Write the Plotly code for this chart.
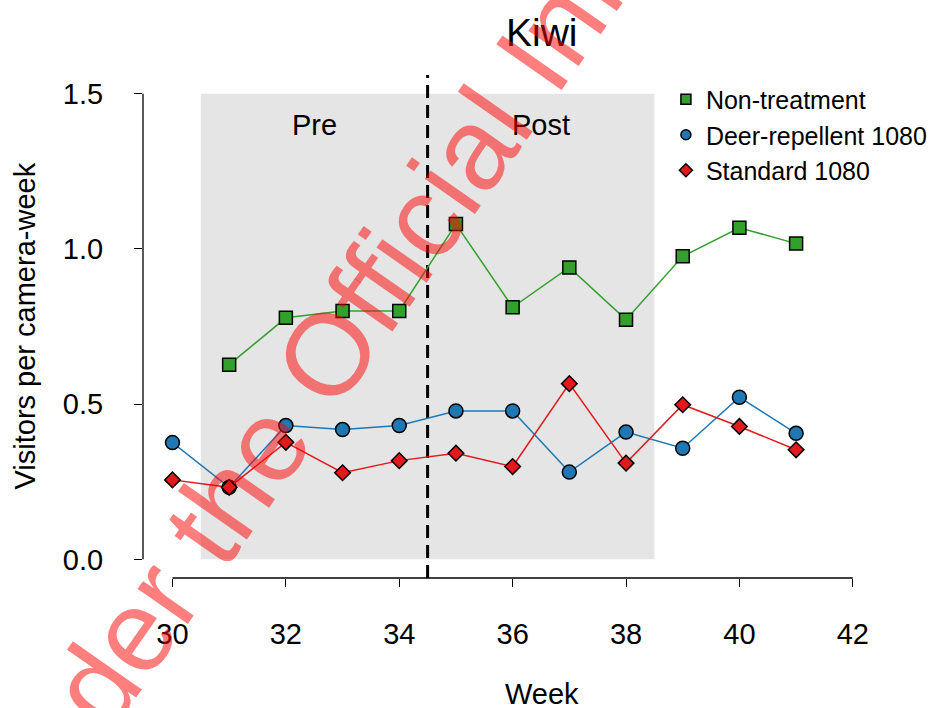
import plotly.graph_objects as go

# ---------------- data ----------------
weeks = [30, 31, 32, 33, 34, 35, 36, 37, 38, 39, 40, 41]
non_treatment = [None, 0.627, 0.778, 0.800, 0.800, 1.080, 0.812, 0.940, 0.772, 0.976, 1.068, 1.017]
deer_repellent = [0.376, 0.232, 0.431, 0.418, 0.431, 0.478, 0.478, 0.281, 0.410, 0.358, 0.522, 0.406]
standard_1080 = [0.256, 0.232, 0.377, 0.279, 0.318, 0.342, 0.299, 0.566, 0.310, 0.498, 0.428, 0.353]
series_names = ["Non-treatment", "Deer-repellent 1080", "Standard 1080"]
x_ticks = [30, 32, 34, 36, 38, 40, 42]
y_ticks = [0.0, 0.5, 1.0, 1.5]
period_bounds = [30.5, 38.5]   # shaded Pre/Post window
treatment_week = 34.5          # dashed line
period_labels = ["Pre", "Post"]
period_label_x = [32.5, 36.5]
period_label_y = 1.40

# ---------------- style ----------------
FONT = "Liberation Sans, Arial, Helvetica, sans-serif"
colors = ["#33A02C", "#1F78B4", "#E31A1C"]
symbols = ["square", "circle", "diamond"]
sizes = [13, 14, 12]
xr = [29.48, 42.48]
yr = [-0.06, 1.56]

def xfrac(v):
    return (v - xr[0]) / (xr[1] - xr[0])

def yfrac(v):
    return (v - yr[0]) / (yr[1] - yr[0])

fig = go.Figure()

for vals, name, col, sym, sz in zip([non_treatment, deer_repellent, standard_1080],
                                    series_names, colors, symbols, sizes):
    fig.add_trace(go.Scatter(
        x=weeks, y=vals, mode="lines+markers", name=name, showlegend=False,
        line=dict(color=col, width=1.5),
        marker=dict(symbol=sym, size=sz, color=col, line=dict(color="black", width=1.5)),
        cliponaxis=False,
    ))

# legend entries (marker only)
for name, col, sym in zip(series_names, colors, symbols):
    fig.add_trace(go.Scatter(
        x=[None], y=[None], mode="markers", name=name, showlegend=True,
        marker=dict(symbol=sym, size=10, color=col, line=dict(color="black", width=1.5)),
    ))

shapes = [
    # shaded window
    dict(type="rect", xref="x", yref="y", x0=period_bounds[0], x1=period_bounds[1],
         y0=y_ticks[0], y1=y_ticks[-1], fillcolor="rgb(229,229,229)", line=dict(width=0),
         layer="below"),
    # dashed treatment line
    dict(type="line", xref="x", yref="y", x0=treatment_week, x1=treatment_week,
         y0=yr[0], y1=yr[1], line=dict(color="black", width=3, dash="13px,7px"), layer="below"),
    # R-style axis lines spanning first to last tick
    dict(type="line", xref="x domain", yref="y domain", x0=xfrac(x_ticks[0]), x1=xfrac(x_ticks[-1]),
         y0=0, y1=0, line=dict(color="black", width=1.3)),
    dict(type="line", xref="x domain", yref="y domain", x0=0, x1=0,
         y0=yfrac(y_ticks[0]), y1=yfrac(y_ticks[-1]), line=dict(color="black", width=1.3)),
]

annotations = [
    dict(text=period_labels[0], x=period_label_x[0], y=period_label_y, xref="x", yref="y",
         showarrow=False, font=dict(family=FONT, size=29, color="black")),
    dict(text=period_labels[1], x=period_label_x[1], y=period_label_y, xref="x", yref="y",
         showarrow=False, font=dict(family=FONT, size=29, color="black")),
    # title
    dict(text="Kiwi", x=0.5414, y=1.0835, xref="paper", yref="paper", showarrow=False,
         xanchor="center", yanchor="middle", font=dict(family=FONT, size=39, color="black")),
    # axis titles
    dict(text="Week", x=0.5414, y=0, xref="paper", yref="paper", yshift=-116, showarrow=False,
         xanchor="center", yanchor="middle", font=dict(family=FONT, size=29, color="black")),
    dict(text="Visitors per camera-week", x=0, y=0.5, xref="paper", yref="paper", xshift=-119,
         showarrow=False, textangle=-90, xanchor="center", yanchor="middle",
         font=dict(family=FONT, size=29, color="black")),
    # watermark
    dict(text="Released under the Official Information Act", x=0.2605, y=0.465,
         xref="paper", yref="paper", showarrow=False, textangle=-55,
         xanchor="center", yanchor="middle",
         font=dict(family=FONT, size=116, color="rgba(255,0,0,0.5)")),
]

fig.update_layout(
    width=932, height=708,
    margin=dict(l=143, r=52, t=75, b=130, autoexpand=False),
    paper_bgcolor="white", plot_bgcolor="white",
    shapes=shapes, annotations=annotations,
    showlegend=True,
    legend=dict(x=0.7095, y=0.997, xanchor="left", yanchor="top",
                bgcolor="rgba(0,0,0,0)", font=dict(family=FONT, size=25, color="black"),
                itemwidth=30),
    xaxis=dict(range=xr, tickvals=x_ticks, ticks="outside", ticklen=8, tickwidth=1.3,
               tickcolor="black", showgrid=False, zeroline=False, showline=False,
               tickfont=dict(family=FONT, size=29, color="black"), ticklabelstandoff=22),
    yaxis=dict(range=yr, tickvals=y_ticks, tickformat=".1f", ticks="outside", ticklen=8,
               tickwidth=1.3, tickcolor="black", showgrid=False, zeroline=False, showline=False,
               tickfont=dict(family=FONT, size=29, color="black"), ticklabelstandoff=25),
)

fig.write_html("out.html")
